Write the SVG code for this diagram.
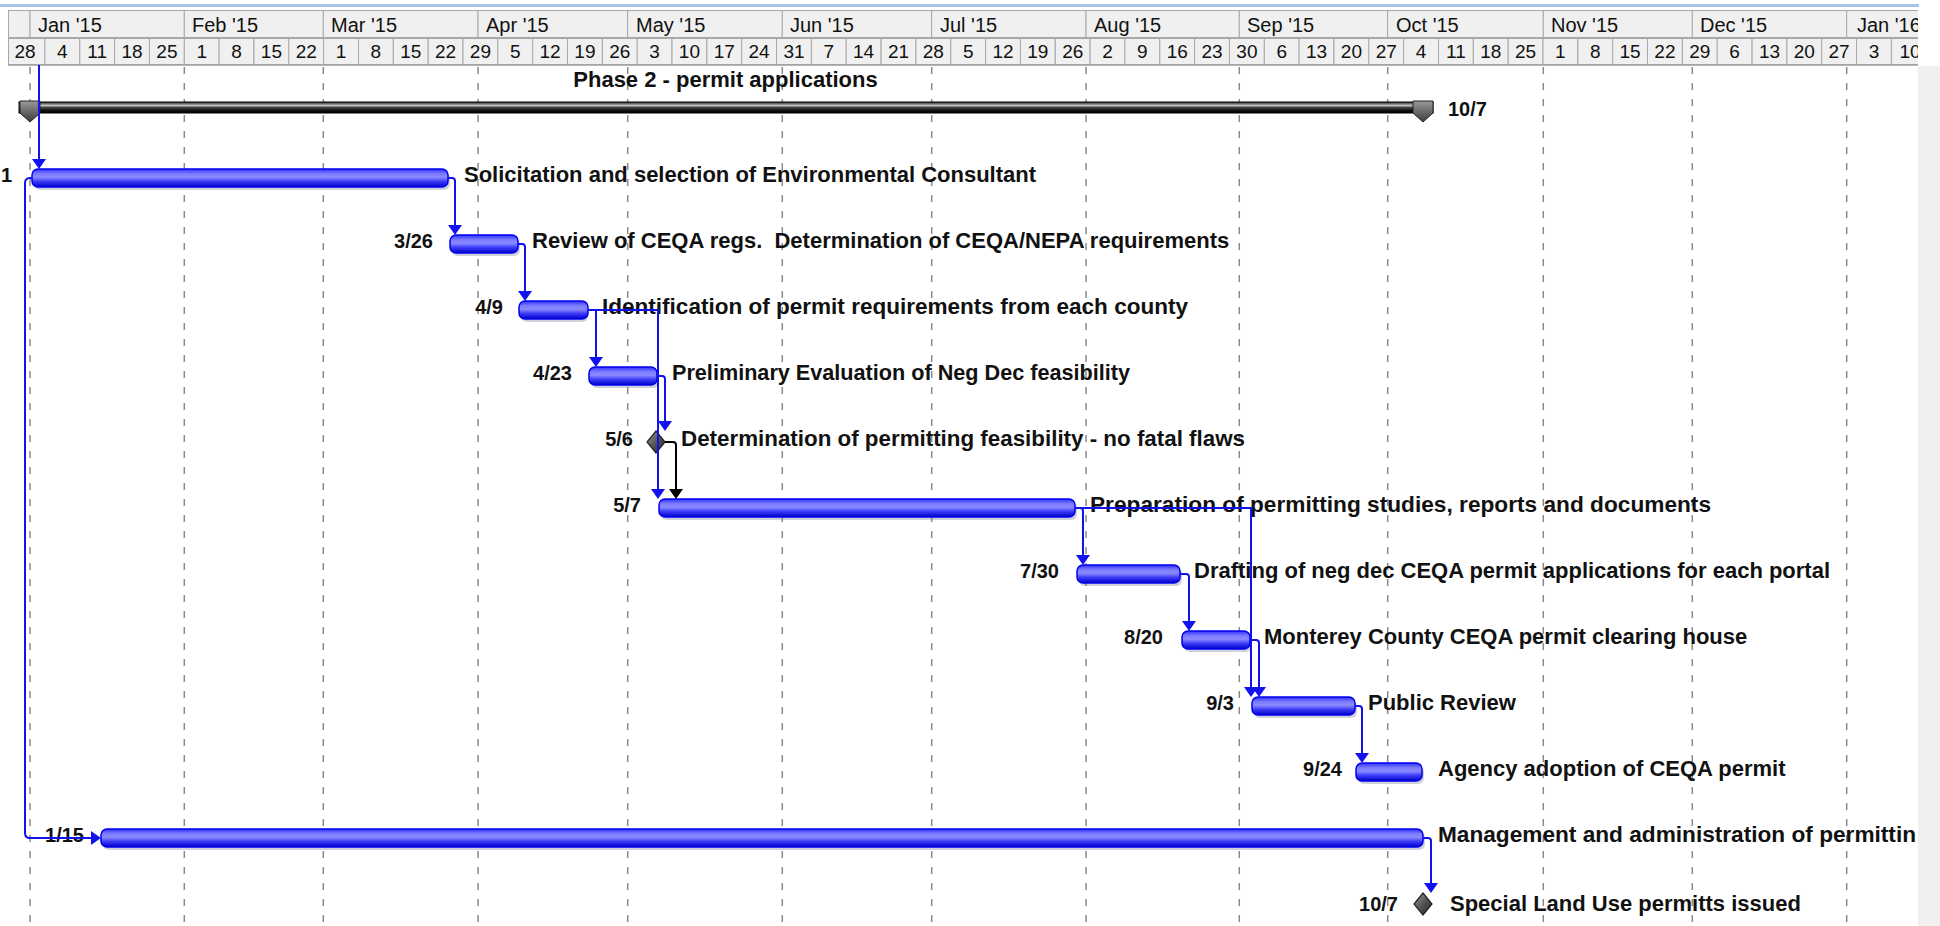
<svg xmlns="http://www.w3.org/2000/svg" width="1940" height="926" viewBox="0 0 1940 926">
<style>
.hdr{fill:#f0f0f0;stroke:#a8a8a8;stroke-width:1}
.mtxt{font-family:"Liberation Sans",Arial,sans-serif;font-size:20px;fill:#111}
.dtxt{font-family:"Liberation Sans",Arial,sans-serif;font-size:19px;fill:#111;text-anchor:middle}
.grid{stroke:#8a8a8a;stroke-width:1.5;stroke-dasharray:7 9}
.lbl{font-family:"Liberation Sans",Arial,sans-serif;font-size:22px;font-weight:bold;fill:#111;white-space:pre}
.dt{font-family:"Liberation Sans",Arial,sans-serif;font-size:20px;font-weight:bold;fill:#111;text-anchor:end}
.bar{fill:url(#gBar);stroke:#0000f0;stroke-width:1.5}
.shd{fill:#7a7a9a;opacity:0.35}
.lnk{fill:none;stroke:#1212ee;stroke-width:2}
.lnkb{fill:none;stroke:#000;stroke-width:2}
.ah{fill:#1212ee}
.ahb{fill:#000}
.ms{fill:url(#gMs);stroke:#222;stroke-width:1.2}
</style>
<defs>
<linearGradient id="gBar" x1="0" y1="0" x2="0" y2="1">
<stop offset="0" stop-color="#3030ff"/>
<stop offset="0.25" stop-color="#7878ff"/>
<stop offset="0.45" stop-color="#8c8cff"/>
<stop offset="0.7" stop-color="#3a3af6"/>
<stop offset="1" stop-color="#0000c8"/>
</linearGradient>
<linearGradient id="gSum" x1="0" y1="0" x2="0" y2="1">
<stop offset="0" stop-color="#2a2a2a"/>
<stop offset="0.18" stop-color="#777"/>
<stop offset="0.32" stop-color="#c4c4c4"/>
<stop offset="0.5" stop-color="#444"/>
<stop offset="0.75" stop-color="#111"/>
<stop offset="1" stop-color="#000"/>
</linearGradient>
<linearGradient id="gCap" x1="0" y1="0" x2="0" y2="1">
<stop offset="0" stop-color="#9a9a9a"/>
<stop offset="1" stop-color="#3a3a3a"/>
</linearGradient>
<linearGradient id="gMs" x1="0" y1="0" x2="1" y2="1">
<stop offset="0" stop-color="#9a9a9a"/>
<stop offset="0.5" stop-color="#555"/>
<stop offset="1" stop-color="#222"/>
</linearGradient>
<clipPath id="clipChart"><rect x="0" y="0" width="1918" height="926"/></clipPath>
</defs>
<rect x="0" y="0" width="1940" height="926" fill="#ffffff"/>
<rect x="1918" y="66" width="22" height="860" fill="#f0f0f0"/>
<rect x="0" y="4" width="1919" height="3" fill="#a9c2e8"/>

<g id="grid">
<line class="grid" x1="30" y1="67" x2="30" y2="926"/>
<line class="grid" x1="184.3" y1="67" x2="184.3" y2="926"/>
<line class="grid" x1="323.3" y1="67" x2="323.3" y2="926"/>
<line class="grid" x1="478" y1="67" x2="478" y2="926"/>
<line class="grid" x1="627.7" y1="67" x2="627.7" y2="926"/>
<line class="grid" x1="782.3" y1="67" x2="782.3" y2="926"/>
<line class="grid" x1="931.7" y1="67" x2="931.7" y2="926"/>
<line class="grid" x1="1086" y1="67" x2="1086" y2="926"/>
<line class="grid" x1="1239.3" y1="67" x2="1239.3" y2="926"/>
<line class="grid" x1="1387.7" y1="67" x2="1387.7" y2="926"/>
<line class="grid" x1="1543.3" y1="67" x2="1543.3" y2="926"/>
<line class="grid" x1="1692.3" y1="67" x2="1692.3" y2="926"/>
<line class="grid" x1="1846.7" y1="67" x2="1846.7" y2="926"/>
</g>

<g id="timescale" clip-path="url(#clipChart)">
<rect x="8" y="10" width="1912" height="55" fill="#f0f0f0"/>
<rect class="hdr" x="8.5" y="10.5" width="21.5" height="27"/>
<rect class="hdr" x="30" y="10.5" width="154.3" height="27"/>
<rect class="hdr" x="184.3" y="10.5" width="139" height="27"/>
<rect class="hdr" x="323.3" y="10.5" width="154.7" height="27"/>
<rect class="hdr" x="478" y="10.5" width="149.7" height="27"/>
<rect class="hdr" x="627.7" y="10.5" width="154.6" height="27"/>
<rect class="hdr" x="782.3" y="10.5" width="149.4" height="27"/>
<rect class="hdr" x="931.7" y="10.5" width="154.3" height="27"/>
<rect class="hdr" x="1086" y="10.5" width="153.3" height="27"/>
<rect class="hdr" x="1239.3" y="10.5" width="148.4" height="27"/>
<rect class="hdr" x="1387.7" y="10.5" width="155.6" height="27"/>
<rect class="hdr" x="1543.3" y="10.5" width="149" height="27"/>
<rect class="hdr" x="1692.3" y="10.5" width="154.4" height="27"/>
<rect class="hdr" x="1846.7" y="10.5" width="100" height="27"/>
<text class="mtxt" x="38" y="32">Jan '15</text>
<text class="mtxt" x="192" y="32">Feb '15</text>
<text class="mtxt" x="331" y="32">Mar '15</text>
<text class="mtxt" x="486" y="32">Apr '15</text>
<text class="mtxt" x="636" y="32">May '15</text>
<text class="mtxt" x="790" y="32">Jun '15</text>
<text class="mtxt" x="940" y="32">Jul '15</text>
<text class="mtxt" x="1094" y="32">Aug '15</text>
<text class="mtxt" x="1247" y="32">Sep '15</text>
<text class="mtxt" x="1396" y="32">Oct '15</text>
<text class="mtxt" x="1551" y="32">Nov '15</text>
<text class="mtxt" x="1700" y="32">Dec '15</text>
<text class="mtxt" x="1857" y="32">Jan '16</text>
<g id="weeks">
<rect class="hdr" x="8.5" y="38.5" width="36.4" height="26"/>
<rect class="hdr" x="44.9" y="38.5" width="34.84" height="26"/>
<rect class="hdr" x="79.8" y="38.5" width="34.84" height="26"/>
<rect class="hdr" x="114.6" y="38.5" width="34.84" height="26"/>
<rect class="hdr" x="149.5" y="38.5" width="34.84" height="26"/>
<rect class="hdr" x="184.3" y="38.5" width="34.84" height="26"/>
<rect class="hdr" x="219.1" y="38.5" width="34.84" height="26"/>
<rect class="hdr" x="254.0" y="38.5" width="34.84" height="26"/>
<rect class="hdr" x="288.8" y="38.5" width="34.84" height="26"/>
<rect class="hdr" x="323.7" y="38.5" width="34.84" height="26"/>
<rect class="hdr" x="358.5" y="38.5" width="34.84" height="26"/>
<rect class="hdr" x="393.3" y="38.5" width="34.84" height="26"/>
<rect class="hdr" x="428.2" y="38.5" width="34.84" height="26"/>
<rect class="hdr" x="463.0" y="38.5" width="34.84" height="26"/>
<rect class="hdr" x="497.8" y="38.5" width="34.84" height="26"/>
<rect class="hdr" x="532.7" y="38.5" width="34.84" height="26"/>
<rect class="hdr" x="567.5" y="38.5" width="34.84" height="26"/>
<rect class="hdr" x="602.4" y="38.5" width="34.84" height="26"/>
<rect class="hdr" x="637.2" y="38.5" width="34.84" height="26"/>
<rect class="hdr" x="672.0" y="38.5" width="34.84" height="26"/>
<rect class="hdr" x="706.9" y="38.5" width="34.84" height="26"/>
<rect class="hdr" x="741.7" y="38.5" width="34.84" height="26"/>
<rect class="hdr" x="776.6" y="38.5" width="34.84" height="26"/>
<rect class="hdr" x="811.4" y="38.5" width="34.84" height="26"/>
<rect class="hdr" x="846.2" y="38.5" width="34.84" height="26"/>
<rect class="hdr" x="881.1" y="38.5" width="34.84" height="26"/>
<rect class="hdr" x="915.9" y="38.5" width="34.84" height="26"/>
<rect class="hdr" x="950.8" y="38.5" width="34.84" height="26"/>
<rect class="hdr" x="985.6" y="38.5" width="34.84" height="26"/>
<rect class="hdr" x="1020.4" y="38.5" width="34.84" height="26"/>
<rect class="hdr" x="1055.3" y="38.5" width="34.84" height="26"/>
<rect class="hdr" x="1090.1" y="38.5" width="34.84" height="26"/>
<rect class="hdr" x="1124.9" y="38.5" width="34.84" height="26"/>
<rect class="hdr" x="1159.8" y="38.5" width="34.84" height="26"/>
<rect class="hdr" x="1194.6" y="38.5" width="34.84" height="26"/>
<rect class="hdr" x="1229.5" y="38.5" width="34.84" height="26"/>
<rect class="hdr" x="1264.3" y="38.5" width="34.84" height="26"/>
<rect class="hdr" x="1299.1" y="38.5" width="34.84" height="26"/>
<rect class="hdr" x="1334.0" y="38.5" width="34.84" height="26"/>
<rect class="hdr" x="1368.8" y="38.5" width="34.84" height="26"/>
<rect class="hdr" x="1403.7" y="38.5" width="34.84" height="26"/>
<rect class="hdr" x="1438.5" y="38.5" width="34.84" height="26"/>
<rect class="hdr" x="1473.3" y="38.5" width="34.84" height="26"/>
<rect class="hdr" x="1508.2" y="38.5" width="34.84" height="26"/>
<rect class="hdr" x="1543.0" y="38.5" width="34.84" height="26"/>
<rect class="hdr" x="1577.9" y="38.5" width="34.84" height="26"/>
<rect class="hdr" x="1612.7" y="38.5" width="34.84" height="26"/>
<rect class="hdr" x="1647.5" y="38.5" width="34.84" height="26"/>
<rect class="hdr" x="1682.4" y="38.5" width="34.84" height="26"/>
<rect class="hdr" x="1717.2" y="38.5" width="34.84" height="26"/>
<rect class="hdr" x="1752.1" y="38.5" width="34.84" height="26"/>
<rect class="hdr" x="1786.9" y="38.5" width="34.84" height="26"/>
<rect class="hdr" x="1821.7" y="38.5" width="34.84" height="26"/>
<rect class="hdr" x="1856.6" y="38.5" width="34.84" height="26"/>
<rect class="hdr" x="1891.4" y="38.5" width="34.84" height="26"/>
</g>
<g id="weeklabels">
<text class="dtxt" x="25" y="58">28</text>
<text class="dtxt" x="62.3" y="58">4</text>
<text class="dtxt" x="97.2" y="58">11</text>
<text class="dtxt" x="132" y="58">18</text>
<text class="dtxt" x="166.9" y="58">25</text>
<text class="dtxt" x="201.7" y="58">1</text>
<text class="dtxt" x="236.5" y="58">8</text>
<text class="dtxt" x="271.4" y="58">15</text>
<text class="dtxt" x="306.2" y="58">22</text>
<text class="dtxt" x="341.1" y="58">1</text>
<text class="dtxt" x="375.9" y="58">8</text>
<text class="dtxt" x="410.7" y="58">15</text>
<text class="dtxt" x="445.6" y="58">22</text>
<text class="dtxt" x="480.4" y="58">29</text>
<text class="dtxt" x="515.2" y="58">5</text>
<text class="dtxt" x="550.1" y="58">12</text>
<text class="dtxt" x="584.9" y="58">19</text>
<text class="dtxt" x="619.8" y="58">26</text>
<text class="dtxt" x="654.6" y="58">3</text>
<text class="dtxt" x="689.4" y="58">10</text>
<text class="dtxt" x="724.3" y="58">17</text>
<text class="dtxt" x="759.1" y="58">24</text>
<text class="dtxt" x="794" y="58">31</text>
<text class="dtxt" x="828.8" y="58">7</text>
<text class="dtxt" x="863.6" y="58">14</text>
<text class="dtxt" x="898.5" y="58">21</text>
<text class="dtxt" x="933.3" y="58">28</text>
<text class="dtxt" x="968.2" y="58">5</text>
<text class="dtxt" x="1003" y="58">12</text>
<text class="dtxt" x="1037.8" y="58">19</text>
<text class="dtxt" x="1072.7" y="58">26</text>
<text class="dtxt" x="1107.5" y="58">2</text>
<text class="dtxt" x="1142.3" y="58">9</text>
<text class="dtxt" x="1177.2" y="58">16</text>
<text class="dtxt" x="1212" y="58">23</text>
<text class="dtxt" x="1246.9" y="58">30</text>
<text class="dtxt" x="1281.7" y="58">6</text>
<text class="dtxt" x="1316.5" y="58">13</text>
<text class="dtxt" x="1351.4" y="58">20</text>
<text class="dtxt" x="1386.2" y="58">27</text>
<text class="dtxt" x="1421.1" y="58">4</text>
<text class="dtxt" x="1455.9" y="58">11</text>
<text class="dtxt" x="1490.7" y="58">18</text>
<text class="dtxt" x="1525.6" y="58">25</text>
<text class="dtxt" x="1560.4" y="58">1</text>
<text class="dtxt" x="1595.3" y="58">8</text>
<text class="dtxt" x="1630.1" y="58">15</text>
<text class="dtxt" x="1664.9" y="58">22</text>
<text class="dtxt" x="1699.8" y="58">29</text>
<text class="dtxt" x="1734.6" y="58">6</text>
<text class="dtxt" x="1769.5" y="58">13</text>
<text class="dtxt" x="1804.3" y="58">20</text>
<text class="dtxt" x="1839.1" y="58">27</text>
<text class="dtxt" x="1874" y="58">3</text>
<text class="dtxt" x="1910" y="58">10</text>
</g>
<line x1="8" y1="65" x2="1918" y2="65" stroke="#a0a0a0" stroke-width="1.5"/>
</g>

<g id="summary">
<text class="lbl" x="725.5" y="87" text-anchor="middle">Phase 2 - permit applications</text>
<rect x="19" y="102" width="1414" height="11" fill="url(#gSum)" stroke="#000" stroke-width="1"/>
<path d="M20 101 H40 V113 L30 122 L20 113 Z" fill="url(#gCap)" stroke="#222" stroke-width="1"/>
<path d="M1413 101 H1433 V113 L1423 122 L1413 113 Z" fill="url(#gCap)" stroke="#222" stroke-width="1"/>
<text class="dt" x="1448" y="116" style="text-anchor:start">10/7</text>
</g>

<g id="task1">
<rect class="shd" x="34" y="172" width="416" height="18" rx="6"/>
<rect class="bar" x="32" y="169" width="416" height="18" rx="6"/>
<text class="dt" x="12" y="182">1</text>
<text class="lbl" x="464" y="182">Solicitation and selection of Environmental Consultant</text>
</g>
<g id="task2">
<rect class="shd" x="452" y="238" width="68" height="18" rx="6"/>
<rect class="bar" x="450" y="235" width="68" height="18" rx="6"/>
<text class="dt" x="433" y="248">3/26</text>
<text class="lbl" x="532" y="248">Review of CEQA regs.  Determination of CEQA/NEPA requirements</text>
</g>
<g id="task3">
<rect class="shd" x="521" y="304" width="67" height="18" rx="6"/>
<rect class="bar" x="519" y="301" width="69" height="18" rx="6"/>
<text class="dt" x="503" y="314">4/9</text>
<text class="lbl" x="602" y="314" textLength="586" lengthAdjust="spacingAndGlyphs">Identification of permit requirements from each county</text>
</g>
<g id="task4">
<rect class="shd" x="591" y="370" width="68" height="18" rx="6"/>
<rect class="bar" x="589" y="367" width="68" height="18" rx="6"/>
<text class="dt" x="572" y="380">4/23</text>
<text class="lbl" x="672" y="380" textLength="458" lengthAdjust="spacingAndGlyphs">Preliminary Evaluation of Neg Dec feasibility</text>
</g>
<g id="task5">
<polygon class="ms" points="656,431 665,442 656,453 647,442"/>
<text class="dt" x="633" y="446">5/6</text>
<text class="lbl" x="681" y="446" textLength="564" lengthAdjust="spacingAndGlyphs">Determination of permitting feasibility - no fatal flaws</text>
</g>
<g id="task6">
<rect class="shd" x="661" y="502" width="416" height="18" rx="6"/>
<rect class="bar" x="659" y="499" width="416" height="18" rx="6"/>
<text class="dt" x="641" y="512">5/7</text>
<text class="lbl" x="1090" y="512" textLength="621" lengthAdjust="spacingAndGlyphs">Preparation of permitting studies, reports and documents</text>
</g>
<g id="task7">
<rect class="shd" x="1079" y="568" width="103" height="18" rx="6"/>
<rect class="bar" x="1077" y="565" width="103" height="18" rx="6"/>
<text class="dt" x="1059" y="578">7/30</text>
<text class="lbl" x="1194" y="578">Drafting of neg dec CEQA permit applications for each portal</text>
</g>
<g id="task8">
<rect class="shd" x="1184" y="634" width="68" height="18" rx="6"/>
<rect class="bar" x="1182" y="631" width="68" height="18" rx="6"/>
<text class="dt" x="1163" y="644">8/20</text>
<text class="lbl" x="1264" y="644">Monterey County CEQA permit clearing house</text>
</g>
<g id="task9">
<rect class="shd" x="1254" y="700" width="103" height="18" rx="6"/>
<rect class="bar" x="1252" y="697" width="103" height="18" rx="6"/>
<text class="dt" x="1234" y="710">9/3</text>
<text class="lbl" x="1368" y="710">Public Review</text>
</g>
<g id="task10">
<rect class="shd" x="1358" y="766" width="66" height="18" rx="6"/>
<rect class="bar" x="1356" y="763" width="66" height="18" rx="6"/>
<text class="dt" x="1342" y="776">9/24</text>
<text class="lbl" x="1438" y="776">Agency adoption of CEQA permit</text>
</g>
<g id="task11" clip-path="url(#clipChart)">
<rect class="shd" x="103" y="832" width="1322" height="18" rx="6"/>
<rect class="bar" x="101" y="829" width="1322" height="18" rx="6"/>
<text class="dt" x="84" y="842">1/15</text>
<text class="lbl" x="1438" y="842" textLength="478" lengthAdjust="spacingAndGlyphs">Management and administration of permittin</text>
</g>
<g id="task12">
<polygon class="ms" points="1423,893 1432,904 1423,915 1414,904"/>
<text class="dt" x="1398" y="911">10/7</text>
<text class="lbl" x="1450" y="911">Special Land Use permitts issued</text>
</g>

<g id="connectors">
<path class="lnk" d="M39 65 V160"/>
<polygon class="ah" points="32,159 46,159 39,169"/>
<path class="lnk" d="M448 178 H452 Q455 178 455 181 V226"/>
<polygon class="ah" points="448,225 462,225 455,235"/>
<path class="lnk" d="M518 244 H522 Q525 244 525 247 V292"/>
<polygon class="ah" points="518,291 532,291 525,301"/>
<path class="lnk" d="M588 310 H658 V490"/>
<path class="lnk" d="M596 310 V358"/>
<polygon class="ah" points="589,357 603,357 596,367"/>
<polygon class="ah" points="651,489 665,489 658,499"/>
<path class="lnk" d="M657 376 H662 Q665 376 665 379 V422"/>
<polygon class="ah" points="658,421 672,421 665,431"/>
<path class="lnkb" d="M665 442 H673 Q676 442 676 445 V490"/>
<polygon class="ahb" points="669,489 683,489 676,499"/>
<path class="lnk" d="M1075 508 H1080 Q1083 508 1083 511 V556"/>
<polygon class="ah" points="1076,555 1090,555 1083,565"/>
<path class="lnk" d="M1075 508 H1251 V688"/>
<polygon class="ah" points="1244,687 1258,687 1251,697"/>
<path class="lnk" d="M1180 574 H1186 Q1189 574 1189 577 V622"/>
<polygon class="ah" points="1182,621 1196,621 1189,631"/>
<path class="lnk" d="M1250 640 H1256 Q1259 640 1259 643 V688"/>
<polygon class="ah" points="1252,687 1266,687 1259,697"/>
<path class="lnk" d="M1355 706 H1359 Q1362 706 1362 709 V754"/>
<polygon class="ah" points="1355,753 1369,753 1362,763"/>
<path class="lnk" d="M1423 838 H1428 Q1431 838 1431 841 V884"/>
<polygon class="ah" points="1424,883 1438,883 1431,893"/>
<path class="lnk" d="M32 178 H30 Q25 178 25 183 V833 Q25 838 30 838 H92"/>
<polygon class="ah" points="91,831 91,845 101,838"/>
</g>
</svg>
